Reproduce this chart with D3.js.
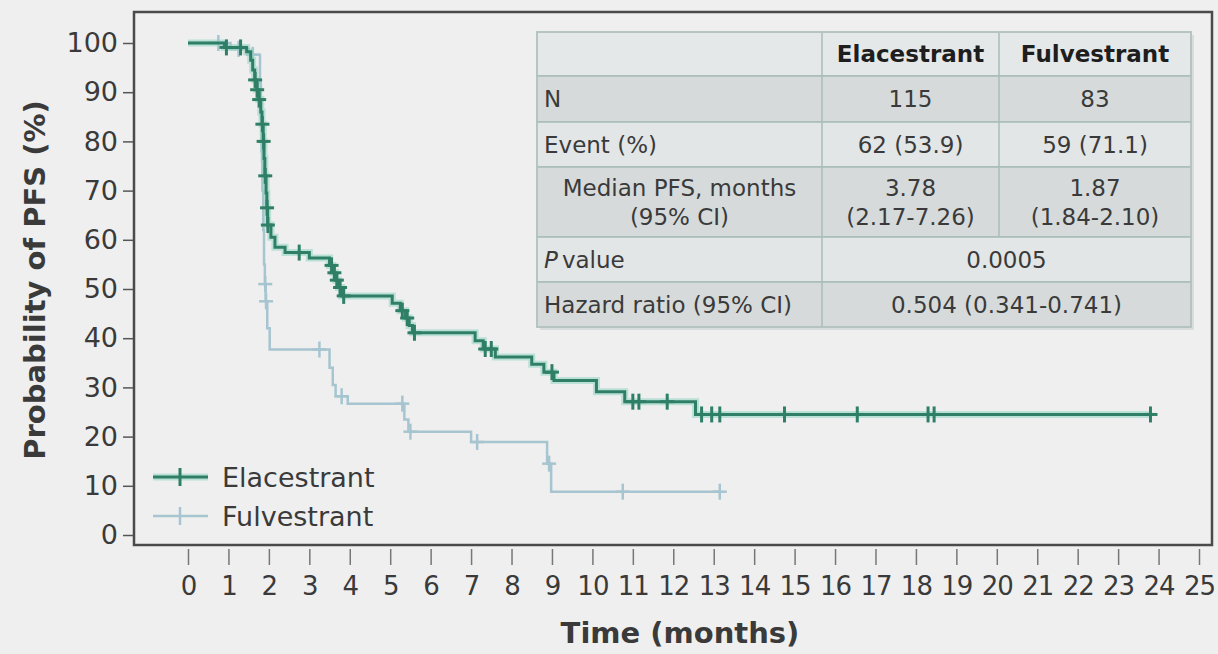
<!DOCTYPE html>
<html>
<head>
<meta charset="utf-8">
<script src="https://cdn.jsdelivr.net/npm/d3@7"></script>
<style>
  body { margin: 0; background: #efefef; }
  svg { display: block; font-family: 'DejaVu Sans', Verdana, sans-serif; }
</style>
</head>
<body>
<div id="chart"></div>
<script>
// 軸の目盛り
const xTicks = [0, 1, 2, 3, 4, 5, 6, 7, 8, 9, 10, 11, 12, 13, 14, 15, 16, 17, 18, 19, 20, 21, 22, 23, 24, 25];
const yTicks = [0, 10, 20, 30, 40, 50, 60, 70, 80, 90, 100];

// Kaplan-Meier ステップ [月, %]
const elacestrantSteps = [
  [0, 100], [0.9, 99.1], [1.45, 98.2], [1.55, 96.5], [1.6, 94.5], [1.65, 92.5],
  [1.7, 90.5], [1.75, 88.5], [1.8, 86], [1.83, 83.5], [1.86, 80], [1.88, 76.5],
  [1.9, 73], [1.93, 69.5], [1.95, 66.5], [1.97, 63], [2.05, 60.5], [2.15, 58.5],
  [2.4, 57.4], [3.0, 56.3], [3.5, 54.8], [3.58, 53.3], [3.65, 51.8], [3.72, 50.3],
  [3.8, 48.6], [5.05, 47.1], [5.25, 45.6], [5.38, 44.1], [5.47, 42.6], [5.55, 41.1],
  [7.1, 39.5], [7.3, 37.8], [7.6, 36.2], [8.5, 34.7], [8.8, 33.1], [9.05, 31.4],
  [10.1, 29.1], [10.8, 27.1], [12.55, 24.5]
];
const elacestrantCensored = [
  0.95, 1.3, 1.66, 1.71, 1.76, 1.84, 1.87, 1.91, 1.955, 1.975, 2.75, 3.55, 3.62,
  3.68, 3.76, 3.85, 5.3, 5.42, 5.6, 7.35, 7.5, 9.0, 11.0, 11.15, 11.85, 12.7,
  12.95, 13.15, 14.75, 16.55, 18.3, 18.45, 23.8
];

const fulvestrantSteps = [
  [0, 100], [1.05, 98.8], [1.5, 97.6], [1.78, 92], [1.8, 85], [1.82, 78],
  [1.84, 70], [1.86, 62], [1.88, 55], [1.9, 51], [1.92, 47.5], [1.96, 42],
  [2.02, 37.7], [3.5, 34], [3.58, 30.5], [3.65, 28.2], [3.95, 26.7], [5.35, 23.5],
  [5.45, 21], [7.0, 18.9], [8.88, 14.5], [8.98, 8.8]
];
const fulvestrantCensored = [
  0.75, 1.25, 1.6, 1.91, 1.93, 3.25, 3.8, 5.3, 5.5, 7.15, 8.93, 10.75, 13.15
];

// 表のデータ
const tableHeader = ['', 'Elacestrant', 'Fulvestrant'];
const rowLabels = ['N', 'Event (%)', 'Median PFS, months\n(95% CI)', 'P value', 'Hazard ratio (95% CI)'];
const elacestrantStats = ['115', '62 (53.9)', '3.78\n(2.17-7.26)'];
const fulvestrantStats = ['83', '59 (71.1)', '1.87\n(1.84-2.10)'];
const pValue = '0.0005';
const hazardRatio = '0.504 (0.341-0.741)';

// svg領域設定
const svgWidth = 1218;
const svgHeight = 654;
const svg = d3.select('#chart')
  .append('svg')
  .attr('width', svgWidth)
  .attr('height', svgHeight);

svg.append('rect')
  .attr('width', svgWidth)
  .attr('height', svgHeight)
  .attr('fill', '#efefef');

// scale設定
const x = d3.scaleLinear().domain([0, 25]).range([188, 1199]);
const y = d3.scaleLinear().domain([0, 100]).range([535, 43]);

const textColor = '#3a3a3a';
const elaColor = '#2f7f66';
const elaHalo = '#8fd3c1';
const fulColor = '#a6c5d0';

// 枠
svg.append('rect')
  .attr('x', 134)
  .attr('y', 12)
  .attr('width', 1078)
  .attr('height', 533)
  .attr('fill', 'none')
  .attr('stroke', '#4a4a4a')
  .attr('stroke-width', 2.5);

// y軸
const yAxis = svg.append('g')
  .attr('transform', 'translate(133,0)')
  .call(d3.axisLeft(y).tickValues(yTicks).tickSize(10).tickPadding(5));
yAxis.select('.domain').remove();
yAxis.selectAll('line').attr('stroke', '#555').attr('stroke-width', 1.5);
yAxis.selectAll('text')
  .attr('font-size', 27)
  .attr('font-family', "'DejaVu Sans', sans-serif")
  .attr('fill', textColor);

// x軸
const xAxis = svg.append('g')
  .attr('transform', 'translate(0,549)')
  .call(d3.axisBottom(x).tickValues(xTicks).tickSize(16).tickPadding(12));
xAxis.select('.domain').remove();
xAxis.selectAll('line').attr('stroke', '#777').attr('stroke-width', 1.5);
xAxis.selectAll('text')
  .attr('font-size', 26)
  .attr('letter-spacing', -1)
  .attr('font-family', "'DejaVu Sans', sans-serif")
  .attr('fill', textColor);

// 軸タイトル
svg.append('text')
  .attr('x', 680)
  .attr('y', 643)
  .attr('text-anchor', 'middle')
  .attr('font-size', 29)
  .attr('font-weight', 'bold')
  .attr('fill', textColor)
  .text('Time (months)');

svg.append('text')
  .attr('transform', 'translate(45,280) rotate(-90)')
  .attr('text-anchor', 'middle')
  .attr('font-size', 29)
  .attr('font-weight', 'bold')
  .attr('fill', textColor)
  .text('Probability of PFS (%)');

// 生存曲線
function survivalAt(steps, t) {
  let v = steps[0][1];
  steps.forEach(([s, p]) => { if (s <= t) v = p; });
  return v;
}

const line = d3.line()
  .x(d => x(d[0]))
  .y(d => y(d[1]))
  .curve(d3.curveStepAfter);

function drawCurve(steps, censored, color, width, halo) {
  const end = [d3.max(censored), steps[steps.length - 1][1]];
  const data = steps.concat([end]);
  const g = svg.append('g');
  if (halo) {
    g.append('path')
      .attr('d', line(data))
      .attr('fill', 'none')
      .attr('stroke', halo)
      .attr('stroke-opacity', 0.55)
      .attr('stroke-width', width + 4);
  }
  g.append('path')
    .attr('d', line(data))
    .attr('fill', 'none')
    .attr('stroke', color)
    .attr('stroke-width', width);

  const marks = g.selectAll('.mark')
    .data(censored)
    .enter()
    .append('g')
    .attr('class', 'mark')
    .attr('transform', t => `translate(${x(t)},${y(survivalAt(steps, t))})`);
  marks.append('line')
    .attr('y1', -8).attr('y2', 8)
    .attr('stroke', color).attr('stroke-width', width);
  marks.append('line')
    .attr('x1', -7).attr('x2', 7)
    .attr('stroke', color).attr('stroke-width', width);
}

drawCurve(fulvestrantSteps, fulvestrantCensored, fulColor, 2.5, null);
drawCurve(elacestrantSteps, elacestrantCensored, elaColor, 3, elaHalo);

// 凡例
const legendItems = [
  { name: 'Elacestrant', color: elaColor, halo: elaHalo, width: 3 },
  { name: 'Fulvestrant', color: fulColor, halo: null, width: 2.5 }
];
const legend = svg.selectAll('.legend')
  .data(legendItems)
  .enter()
  .append('g')
  .attr('class', 'legend')
  .attr('transform', (d, i) => `translate(153,${477 + i * 39})`);
legend.filter(d => d.halo)
  .append('line')
  .attr('x1', 0).attr('x2', 55)
  .attr('stroke', d => d.halo).attr('stroke-opacity', 0.55).attr('stroke-width', 7);
legend.append('line')
  .attr('x1', 0).attr('x2', 55)
  .attr('stroke', d => d.color).attr('stroke-width', d => d.width);
legend.append('line')
  .attr('x1', 27).attr('x2', 27).attr('y1', -9).attr('y2', 9)
  .attr('stroke', d => d.color).attr('stroke-width', d => d.width);
legend.append('text')
  .attr('x', 69)
  .attr('y', 10)
  .attr('font-size', 27)
  .attr('fill', textColor)
  .text(d => d.name);

// 表
const colEdges = [537, 822, 999, 1191];
const rowEdges = [32, 76, 122, 167, 237, 282, 327];
const rowFills = ['#e5e8e8', '#d6dada', '#e3e6e6', '#d6dada', '#e3e6e6', '#d6dada'];
const table = svg.append('g');

table.append('rect')
  .attr('x', colEdges[0] + 3)
  .attr('y', rowEdges[0] + 3)
  .attr('width', colEdges[3] - colEdges[0])
  .attr('height', rowEdges[6] - rowEdges[0])
  .attr('fill', '#d8dcdc');

rowFills.forEach((f, i) => {
  table.append('rect')
    .attr('x', colEdges[0])
    .attr('y', rowEdges[i])
    .attr('width', colEdges[3] - colEdges[0])
    .attr('height', rowEdges[i + 1] - rowEdges[i])
    .attr('fill', f)
    .attr('stroke', '#a8bcb8')
    .attr('stroke-width', 1.5);
});
// 縦線
[1, 2].forEach(c => {
  table.append('line')
    .attr('x1', colEdges[c]).attr('x2', colEdges[c])
    .attr('y1', rowEdges[0]).attr('y2', c === 1 ? rowEdges[6] : rowEdges[4])
    .attr('stroke', '#a8bcb8').attr('stroke-width', 1.5);
});
table.append('rect')
  .attr('x', colEdges[0])
  .attr('y', rowEdges[0])
  .attr('width', colEdges[3] - colEdges[0])
  .attr('height', rowEdges[6] - rowEdges[0])
  .attr('fill', 'none')
  .attr('stroke', '#b5c3c1')
  .attr('stroke-width', 1.5);

function cellText(str, cx, r, anchor, weight) {
  const lines = str.split('\n');
  const mid = (rowEdges[r] + rowEdges[r + 1]) / 2;
  const lh = 29;
  const t = table.append('text')
    .attr('text-anchor', anchor)
    .attr('font-size', 23)
    .attr('font-weight', weight || 'normal')
    .attr('fill', weight ? '#1e1e1e' : textColor);
  lines.forEach((l, i) => {
    const ty = mid + (i - (lines.length - 1) / 2) * lh + 8;
    if (l === 'P value') {
      t.append('tspan').attr('x', cx).attr('y', ty).attr('font-style', 'italic').text('P');
      t.append('tspan').attr('dx', 4).text('value');
    } else {
      t.append('tspan').attr('x', cx).attr('y', ty).text(l);
    }
  });
}

const colCenters = [0, 1, 2].map(c => (colEdges[c] + colEdges[c + 1]) / 2);
cellText(tableHeader[1], colCenters[1], 0, 'middle', 'bold');
cellText(tableHeader[2], colCenters[2], 0, 'middle', 'bold');
rowLabels.forEach((label, i) => {
  const centered = label.indexOf('\n') >= 0;
  cellText(label, centered ? colCenters[0] : colEdges[0] + 7, i + 1, centered ? 'middle' : 'start');
});
elacestrantStats.forEach((v, i) => cellText(v, colCenters[1], i + 1, 'middle'));
fulvestrantStats.forEach((v, i) => cellText(v, colCenters[2], i + 1, 'middle'));
cellText(pValue, (colEdges[1] + colEdges[3]) / 2, 4, 'middle');
cellText(hazardRatio, (colEdges[1] + colEdges[3]) / 2, 5, 'middle');
</script>
</body>
</html>
